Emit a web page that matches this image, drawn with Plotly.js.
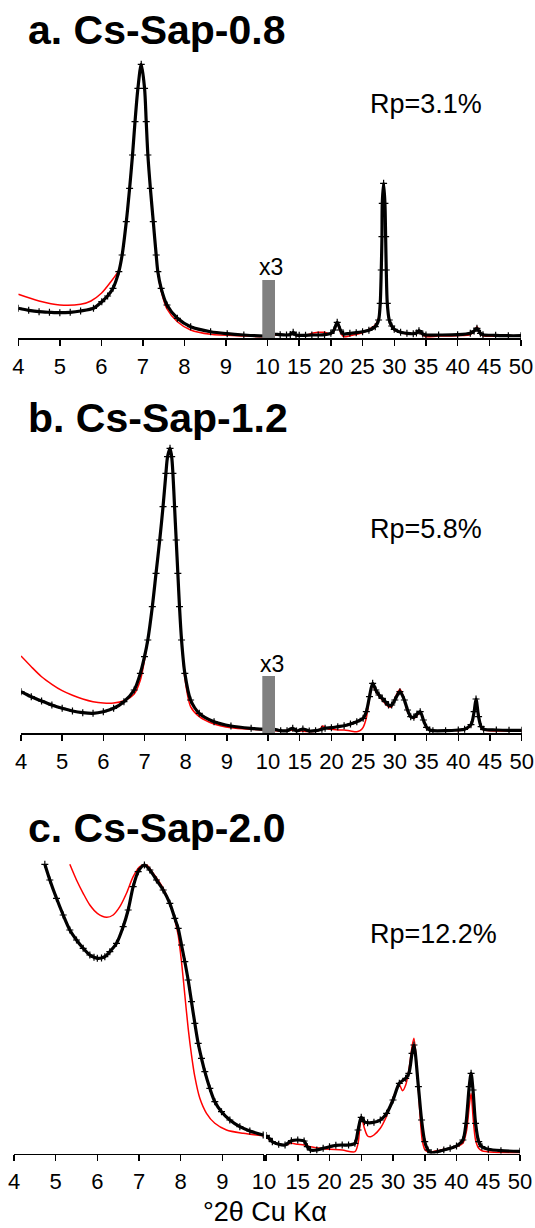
<!DOCTYPE html>
<html>
<head>
<meta charset="utf-8">
<script src="https://cdn.plot.ly/plotly-3.0.1.min.js"></script>
<style>html,body{margin:0;padding:0;background:#fff;}#chart{width:535px;height:1228px;}</style>
</head>
<body>
<div id="chart"></div>
<script>
// ---------- DATA (intensity in arbitrary units) ----------
// Panel a: Cs-Sap-0.8
const aLeftObsX = [4.0, 4.25, 4.5, 4.75, 5.0, 5.25, 5.5, 5.81, 6.01, 6.15, 6.28, 6.42, 6.50, 6.60, 6.68, 6.75, 6.81, 6.88, 6.96, 7.04, 7.08, 7.12, 7.18, 7.25, 7.32, 7.36, 7.44, 7.58, 7.83, 8.15, 8.63, 9.03, 9.43, 9.92, 10.0];
const aLeftObsY = [29.7, 27.7, 26.3, 25.7, 25.3, 25.7, 27, 29.7, 36.3, 42, 49.7, 66.3, 83, 116.3, 149.7, 183, 216.3, 249.7, 273.7, 249.7, 216.3, 183, 149.7, 116.3, 83, 66.3, 49.7, 33, 19.7, 11.3, 6.3, 4.3, 3, 2, 2];
const aLeftCalcX = [4.0, 4.5, 5.0, 5.5, 5.75, 6.0, 6.2, 6.42, 6.50, 6.60, 6.68, 6.75, 6.81, 6.88, 6.96, 7.04, 7.08, 7.12, 7.18, 7.25, 7.32, 7.36, 7.44, 7.58, 7.83, 8.15, 8.63, 9.43, 9.92, 10.0];
const aLeftCalcY = [43.7, 37, 33, 33.7, 37, 44.7, 54.7, 68, 84, 116.3, 149.7, 183, 216.3, 249.7, 274.5, 249.7, 216.3, 183, 149.7, 116.3, 83, 65, 47, 29, 16.3, 8, 3.7, 2, 1.3, 1.3];
const aRightObsX = [10, 11, 12, 13, 13.6, 14.05, 14.5, 15, 16, 17, 18, 19, 20, 20.5, 21.0, 21.5, 22, 23, 24, 25, 26, 27, 27.53, 27.79, 27.95, 28.06, 28.11, 28.32, 28.53, 28.64, 28.74, 28.9, 29.21, 29.6, 30, 31, 32, 33, 33.5, 33.9, 34.5, 35, 37, 40, 42, 42.6, 43.05, 43.6, 44, 46, 48, 50];
const aRightObsY = [4, 4, 3.3, 3, 3.5, 5.7, 3, 2.7, 2.7, 3, 3, 3.3, 4.7, 8, 15.7, 8, 4, 4.7, 5.3, 6.3, 7.7, 11.3, 18, 34.7, 68, 101.3, 134.7, 154.7, 134.7, 101.3, 68, 34.7, 18, 12, 8.7, 5.7, 4.7, 4.3, 5, 7.3, 4, 3, 3, 3.3, 4.7, 7, 9.7, 4.7, 3.3, 2.7, 2.3, 2.3];
const aRightCalcX = [10, 12, 13.6, 14.05, 14.5, 15, 16, 17, 18, 19, 20, 20.5, 21.0, 21.5, 22, 23, 25, 26, 27, 27.53, 27.79, 27.95, 28.06, 28.11, 28.32, 28.53, 28.64, 28.74, 28.9, 29.21, 29.6, 30, 32, 33.5, 33.9, 34.5, 35, 37, 40, 42, 42.6, 43.05, 43.6, 44, 46, 50];
const aRightCalcY = [3, 2.7, 3, 5, 2.5, 2, 2.3, 4.7, 5.7, 5.7, 4, 7, 14.7, 6, 1.3, 2.3, 5.3, 8.7, 13, 20, 36, 68, 101.3, 132, 151, 132, 101.3, 68, 34.7, 17, 11, 8, 4, 4.5, 5.7, 3, 1.3, 2, 2.3, 3.5, 7, 11.3, 4, 2.3, 1.7, 1.7];

// Panel b: Cs-Sap-1.2
const bLeftObsX = [4.0, 4.25, 4.5, 4.75, 5.0, 5.25, 5.5, 5.75, 6.0, 6.25, 6.5, 6.75, 6.9, 7.0, 7.08, 7.19, 7.28, 7.37, 7.45, 7.52, 7.56, 7.62, 7.66, 7.69, 7.73, 7.77, 7.81, 7.85, 7.90, 7.98, 8.12, 8.33, 8.69, 9.10, 9.59, 10.0];
const bLeftObsY = [41.3, 36.3, 32, 28, 24.7, 22, 20.3, 19.7, 21.3, 24.7, 31.3, 43, 59.7, 76.3, 93, 126.3, 159.7, 193, 226.3, 259.7, 276.3, 284.7, 276.3, 259.7, 226.3, 193, 159.7, 126.3, 93, 59.7, 33, 19.7, 11.3, 7, 4.7, 3.6];
const bLeftCalcX = [4.0, 4.25, 4.5, 4.75, 5.0, 5.25, 5.5, 5.75, 6.0, 6.25, 6.5, 6.75, 6.9, 7.0, 7.08, 7.19, 7.28, 7.37, 7.45, 7.52, 7.56, 7.62, 7.66, 7.69, 7.73, 7.77, 7.81, 7.85, 7.90, 7.98, 8.12, 8.33, 8.69, 9.10, 9.59, 10.0];
const bLeftCalcY = [77, 66.3, 56.3, 48.7, 42.3, 37.7, 34, 31.3, 30, 30, 32.3, 39, 53, 73, 93, 126.3, 159.7, 193, 226.3, 259.7, 276.3, 285, 276.3, 259.7, 226.3, 193, 159.7, 126.3, 93, 55, 26.3, 16.3, 9, 5.3, 3.7, 3];
const bRightObsX = [10, 11, 12, 13, 13.9, 14.5, 15.5, 16.5, 17.5, 18.5, 19, 20, 21, 22, 23, 24, 25, 25.5, 26, 26.5, 27, 27.5, 28, 28.5, 29, 29.5, 30, 30.8, 31.5, 32, 32.5, 33, 33.5, 34, 34.5, 35, 35.5, 36, 38, 40, 41, 42, 42.5, 42.8, 43.2, 43.6, 44, 46, 48, 50];
const bRightObsY = [3.7, 3.7, 2.3, 2.3, 4.7, 2, 4, 2, 2.3, 3.7, 4.7, 5.3, 6.3, 7.3, 9, 11.3, 14.7, 21.3, 36.3, 49.7, 43, 38, 34.7, 31.3, 28, 28, 33, 41.3, 33, 23, 16.3, 15.7, 19, 21.3, 13, 5.7, 3, 2.3, 2.3, 3, 3.7, 8.3, 21.3, 34, 16.3, 6.3, 3.7, 3, 2.7, 2.7];
const bRightCalcX = [10, 12, 14, 16, 18, 18.6, 19.5, 20, 21, 22, 23, 24, 24.5, 25, 25.5, 26, 26.5, 27, 28, 29, 29.5, 30, 30.8, 31.5, 32, 33, 34, 35, 36, 38, 39, 40, 42, 42.8, 43.6, 44, 46, 50];
const bRightCalcY = [3, 2, 3, 1.5, 2.5, 7, 4, 3.7, 3, 3, 2, 1.3, 2.3, 5.7, 15, 35, 48, 41.3, 33, 26.3, 26.3, 34.7, 43.7, 33, 21.3, 14.7, 20.3, 4.7, 2, 2.3, 3, 2.3, 7.3, 32.3, 5, 3, 2, 2];

// Panel c: Cs-Sap-2.0
const cLeftObsX = [4.74, 4.86, 5.02, 5.18, 5.34, 5.5, 5.66, 5.82, 5.92, 6.0, 6.1, 6.18, 6.3, 6.46, 6.62, 6.74, 6.86, 6.98, 7.13, 7.26, 7.42, 7.58, 7.74, 7.86, 7.94, 8.02, 8.1, 8.18, 8.26, 8.34, 8.42, 8.5, 8.58, 8.7, 8.82, 8.98, 9.18, 9.42, 9.66, 9.98];
const cLeftObsY = [289.2, 273.5, 255.2, 238.5, 223.5, 213.5, 205.2, 198.5, 196.3, 195.2, 195.5, 196.8, 201.8, 210.2, 226.8, 243.5, 266.8, 281.8, 288.5, 283.5, 273.5, 263.5, 250.2, 235.2, 225.2, 208.5, 191.8, 173.5, 151.8, 130.2, 110.2, 95.2, 81.8, 65.2, 51.8, 41.8, 33.5, 26.8, 22.5, 18.5];
const cLeftCalcX = [5.34, 5.5, 5.66, 5.82, 6.0, 6.22, 6.38, 6.54, 6.7, 6.86, 7.02, 7.18, 7.34, 7.58, 7.74, 7.86, 7.94, 8.02, 8.1, 8.18, 8.26, 8.34, 8.46, 8.62, 8.82, 9.1, 9.5, 9.98];
const cLeftCalcY = [289.2, 273.5, 260.2, 248.5, 240.2, 236.2, 238.5, 246.8, 260.2, 276.8, 286.8, 288.5, 280.2, 265.2, 250.2, 233.5, 218.5, 191.8, 158.5, 125.2, 98.5, 76.8, 55.2, 40.2, 30.2, 23.5, 20.2, 17.8];
const cRightObsX = [10, 10.5, 11, 12, 13, 14, 15, 16, 16.5, 17, 18, 19, 20, 21, 22, 23, 24, 24.5, 25, 25.5, 26, 27, 28, 29, 30, 31, 32, 32.5, 33, 33.3, 34, 34.5, 35, 35.5, 36, 37, 38, 39, 40, 41, 41.5, 42, 42.3, 42.6, 43, 43.5, 44, 45, 47, 50];
const cRightObsY = [18, 15.2, 11.8, 9.2, 8.5, 12.8, 13.5, 12.5, 6.8, 3.5, 3.5, 5.2, 6.8, 8.2, 8.5, 8.5, 10.2, 23.5, 36.2, 31.8, 30.8, 31.2, 33.5, 40.2, 53.5, 70.2, 75.2, 80.2, 100.2, 108.5, 66.8, 33.5, 11.8, 3.5, 0.8, 1.8, 3.5, 5.2, 7.5, 13.5, 30.2, 66.8, 80.2, 63.5, 30.2, 11.8, 6.8, 4.2, 2.8, 2.2];
const cRightCalcX = [10, 11, 12, 13, 14, 15, 16, 17, 18, 19, 20, 22, 24, 24.5, 25, 25.5, 26, 26.5, 27, 28, 29, 30, 31, 31.5, 32, 32.5, 33, 33.3, 33.8, 34.2, 34.6, 35, 35.5, 36, 38, 40, 41, 41.6, 42, 42.3, 42.6, 43, 43.5, 44, 46, 50];
const cRightCalcY = [16.8, 11.8, 9.5, 8.5, 10.2, 9.2, 8.5, 6.8, 5.8, 4.8, 4.2, 3.5, 1.8, 10.2, 36.8, 25.2, 17.5, 16.8, 18.5, 25.2, 37.5, 55.2, 68.5, 62.8, 68.5, 83.5, 106.8, 115.2, 83.5, 43.5, 13.5, 4.2, 1.8, 1.8, 4.2, 6.8, 10.2, 23.5, 46.8, 60.2, 36.8, 13.5, 5.2, 2.8, 1.2, 0.8];

// Tick labels
const leftTicks = [4, 5, 6, 7, 8, 9, 10];
const rightTicks = [10, 15, 20, 25, 30, 35, 40, 45, 50];
const rightTickText = ['', '15', '20', '25', '30', '35', '40', '45', '50'];

const panelTitles = ['a. Cs-Sap-0.8', 'b. Cs-Sap-1.2', 'c. Cs-Sap-2.0'];
const rpLabels = ['Rp=3.1%', 'Rp=5.8%', 'Rp=12.2%'];
const xTitle = '°2θ Cu Kα';

// ---------- LAYOUT ----------
const W = 535, H = 1228;
const px = v => v / W;
const py = v => 1 - v / H;
const FONT = 'Liberation Sans, Arial, sans-serif';

function calcTrace(x, y, xa, ya) {
  return {x: x, y: y, xaxis: xa, yaxis: ya, type: 'scatter', mode: 'lines',
    line: {color: '#ff0000', width: 1.5, shape: 'spline', smoothing: 0.8}, hoverinfo: 'skip'};
}
function obsTrace(x, y, xa, ya) {
  return {x: x, y: y, xaxis: xa, yaxis: ya, type: 'scatter', mode: 'lines+markers',
    line: {color: '#000000', width: 3.2, shape: 'spline', smoothing: 0.8},
    marker: {symbol: 'cross-thin', size: 5, color: '#000', line: {color: '#000', width: 1.2}},
    hoverinfo: 'skip'};
}

const traces = [
  calcTrace(aLeftCalcX, aLeftCalcY, 'x', 'y'), obsTrace(aLeftObsX, aLeftObsY, 'x', 'y'),
  calcTrace(aRightCalcX, aRightCalcY, 'x2', 'y'), obsTrace(aRightObsX, aRightObsY, 'x2', 'y'),
  calcTrace(bLeftCalcX, bLeftCalcY, 'x3', 'y2'), obsTrace(bLeftObsX, bLeftObsY, 'x3', 'y2'),
  calcTrace(bRightCalcX, bRightCalcY, 'x4', 'y2'), obsTrace(bRightObsX, bRightObsY, 'x4', 'y2'),
  calcTrace(cLeftCalcX, cLeftCalcY, 'x5', 'y3'), obsTrace(cLeftObsX, cLeftObsY, 'x5', 'y3'),
  calcTrace(cRightCalcX, cRightCalcY, 'x6', 'y3'), obsTrace(cRightObsX, cRightObsY, 'x6', 'y3'),
];

function xAxis(domain, range, anchor, vals, text) {
  const ax = {domain: domain, range: range, anchor: anchor, showgrid: false, zeroline: false,
    showline: true, linecolor: '#000', linewidth: 1.5, ticks: 'outside', ticklen: 6, tickwidth: 1.5,
    tickcolor: '#000', tickvals: vals, tickfont: {family: FONT, size: 22, color: '#000'},
    ticklabelstandoff: 2, fixedrange: true};
  if (text) ax.ticktext = text;
  return ax;
}
function yAxis(domain, range) {
  return {domain: domain, range: range, visible: false, fixedrange: true};
}

const layout = {
  width: W, height: H, margin: {l: 0, r: 0, t: 0, b: 0},
  paper_bgcolor: '#fff', plot_bgcolor: 'rgba(0,0,0,0)', showlegend: false,
  xaxis:  xAxis([px(18.3), px(267.5)], [4, 10], 'y', leftTicks),
  xaxis2: xAxis([px(267.5), px(521)], [10, 50], 'y', rightTicks, rightTickText),
  xaxis3: xAxis([px(21), px(268)], [4, 10], 'y2', leftTicks),
  xaxis4: xAxis([px(268), px(521.7)], [10, 50], 'y2', rightTicks, rightTickText),
  xaxis5: xAxis([px(14), px(264)], [4, 10], 'y3', leftTicks),
  xaxis6: xAxis([px(266), px(520)], [10, 50], 'y3', rightTicks, rightTickText),
  yaxis:  yAxis([py(338), py(55)], [0, 283]),
  yaxis2: yAxis([py(733), py(440)], [0, 293]),
  yaxis3: yAxis([py(1153.5), py(855)], [0, 298.5]),
  shapes: [
    {type: 'rect', xref: 'paper', yref: 'paper', x0: px(262.3), x1: px(275), y0: py(338), y1: py(280),
     fillcolor: '#808080', line: {width: 0}, layer: 'above'},
    {type: 'rect', xref: 'paper', yref: 'paper', x0: px(262.3), x1: px(275), y0: py(733), y1: py(676),
     fillcolor: '#808080', line: {width: 0}, layer: 'above'}
  ],
  annotations: [
    {text: '<b>' + panelTitles[0] + '</b>', x: px(26), y: py(30), xref: 'paper', yref: 'paper', xanchor: 'left', yanchor: 'middle', showarrow: false, font: {family: FONT, size: 41, color: '#000'}},
    {text: '<b>' + panelTitles[1] + '</b>', x: px(26), y: py(418), xref: 'paper', yref: 'paper', xanchor: 'left', yanchor: 'middle', showarrow: false, font: {family: FONT, size: 41, color: '#000'}},
    {text: '<b>' + panelTitles[2] + '</b>', x: px(26), y: py(828), xref: 'paper', yref: 'paper', xanchor: 'left', yanchor: 'middle', showarrow: false, font: {family: FONT, size: 41, color: '#000'}},
    {text: rpLabels[0], x: px(368), y: py(104), xref: 'paper', yref: 'paper', xanchor: 'left', yanchor: 'middle', showarrow: false, font: {family: FONT, size: 27, color: '#000'}},
    {text: rpLabels[1], x: px(368), y: py(529), xref: 'paper', yref: 'paper', xanchor: 'left', yanchor: 'middle', showarrow: false, font: {family: FONT, size: 27, color: '#000'}},
    {text: rpLabels[2], x: px(368), y: py(934), xref: 'paper', yref: 'paper', xanchor: 'left', yanchor: 'middle', showarrow: false, font: {family: FONT, size: 27, color: '#000'}},
    {text: 'x3', x: px(270.5), y: py(267), xref: 'paper', yref: 'paper', xanchor: 'center', yanchor: 'middle', showarrow: false, font: {family: FONT, size: 23, color: '#000'}},
    {text: 'x3', x: px(271.5), y: py(663.5), xref: 'paper', yref: 'paper', xanchor: 'center', yanchor: 'middle', showarrow: false, font: {family: FONT, size: 23, color: '#000'}},
    {text: xTitle, x: px(265), y: py(1212), xref: 'paper', yref: 'paper', xanchor: 'center', yanchor: 'middle', showarrow: false, font: {family: FONT, size: 27, color: '#000'}}
  ]
};

Plotly.newPlot('chart', traces, layout, {staticPlot: true, displayModeBar: false});
</script>
</body>
</html>
